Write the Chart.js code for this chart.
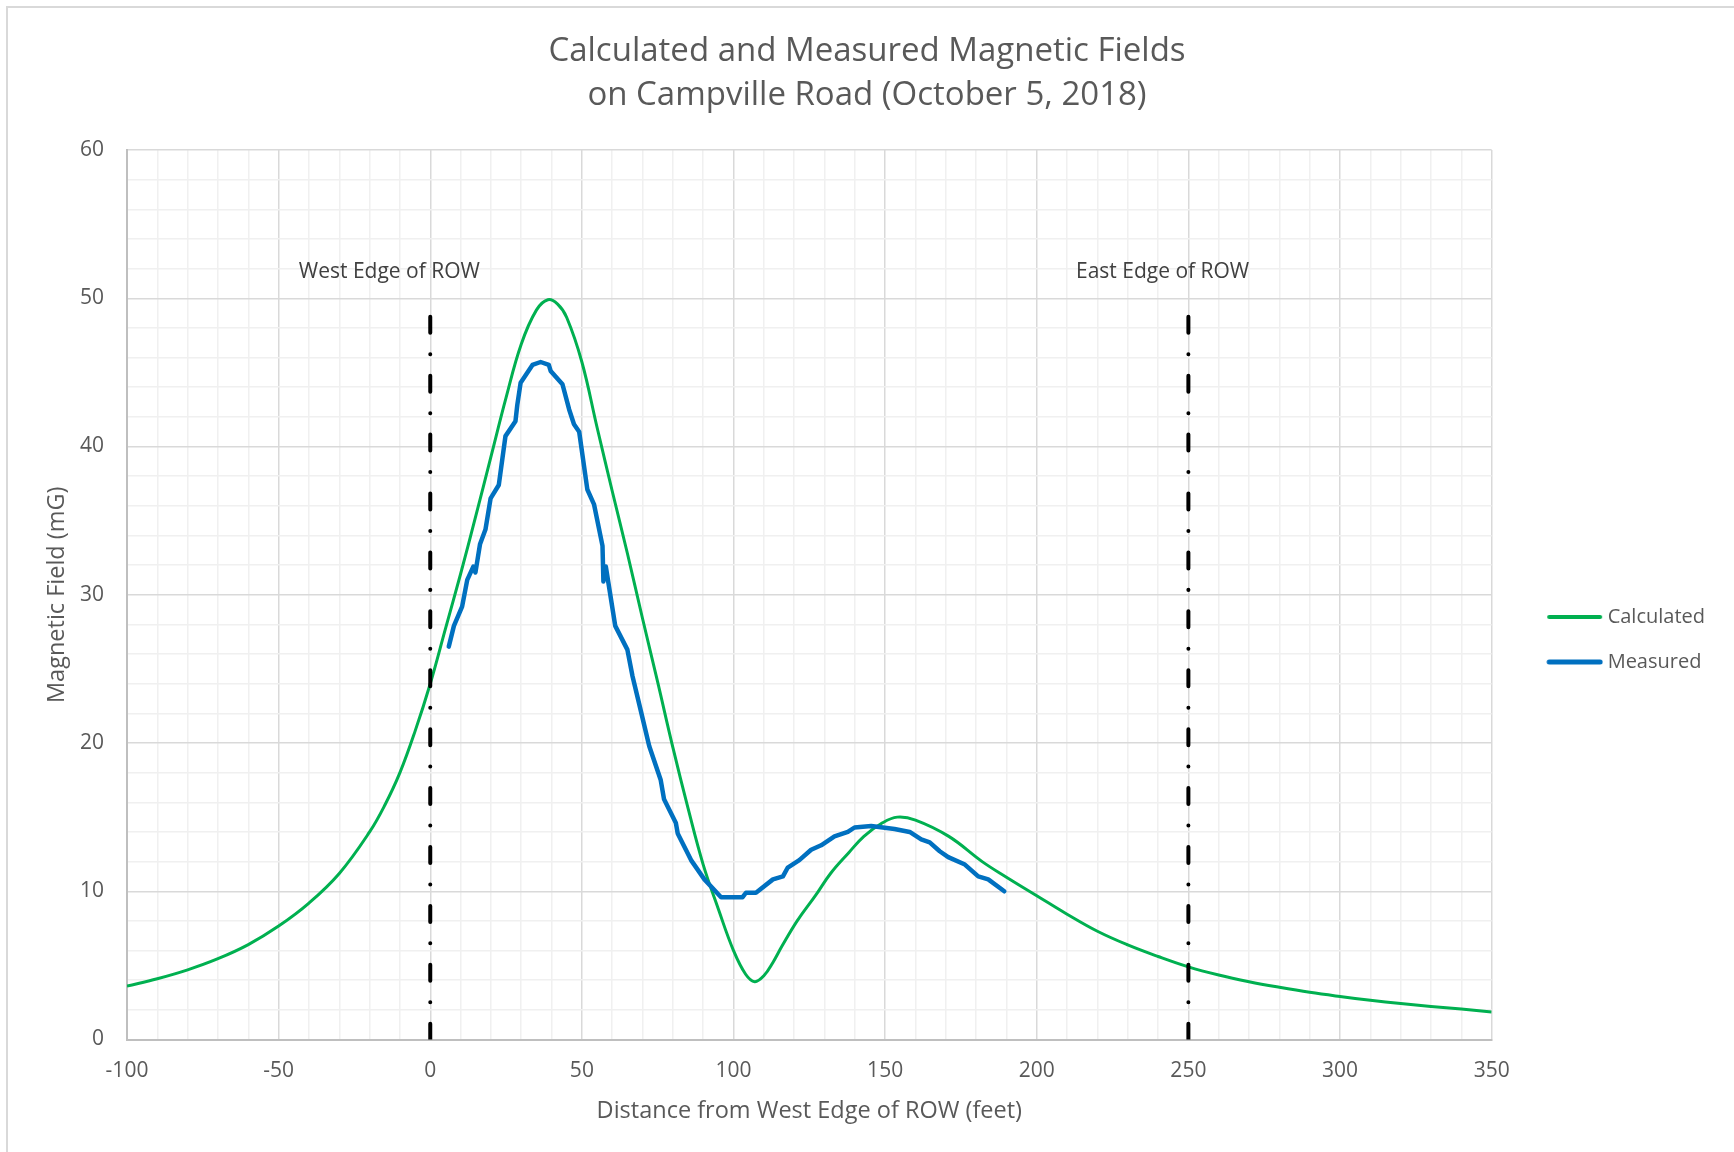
<!DOCTYPE html>
<html>
<head>
<meta charset="utf-8">
<title>Calculated and Measured Magnetic Fields</title>
<script src="https://cdn.jsdelivr.net/npm/chart.js@4.4.1/dist/chart.umd.min.js"></script>
<style>
    html, body { margin: 0; padding: 0; background: #fff; overflow: hidden; }
    #frame { position: absolute; left: 6px; top: 6px; width: 1800px; height: 1200px;
             border-left: 2px solid #d9d9d9; border-top: 2px solid #d9d9d9; }
    #field-chart { position: absolute; left: 0; top: 0; }
</style>
</head>
<body>
<div id="frame"></div>
<canvas id="field-chart" width="1734" height="1152"></canvas>
<script>
// Calculated profile (distance in feet, field in mG)
const calcDistance = [-100, -90, -80, -70, -60, -50, -40, -30, -20, -15,
    -10, -5, 0, 5, 10, 15, 20, 25, 30, 35,
    38.8, 42, 45, 50, 55, 60, 65, 70, 75, 80,
    85, 90, 95, 100, 104, 107, 110, 113, 116, 121,
    127, 132, 138, 143, 149, 154, 160, 171, 182, 190,
    200, 210, 220, 230, 240, 250, 260, 270, 280, 290,
    300, 310, 320, 330, 340, 350];
const calcField = [3.6, 4.1, 4.7, 5.45, 6.4, 7.65, 9.2, 11.2, 14.0, 15.8,
    18.0, 20.8, 24.0, 27.7, 31.4, 35.3, 39.3, 43.3, 46.9, 49.2,
    49.9, 49.6, 48.7, 45.7, 41.3, 37.0, 32.8, 28.4, 24.1, 19.7,
    15.6, 11.8, 8.8, 6.0, 4.4, 3.9, 4.3, 5.2, 6.3, 8.0,
    9.7, 11.2, 12.6, 13.7, 14.6, 15.0, 14.8, 13.7, 12.0, 10.95,
    9.7, 8.45, 7.3, 6.38, 5.6, 4.9, 4.35, 3.9, 3.52, 3.18,
    2.9, 2.65, 2.43, 2.23, 2.05, 1.85];

// Measured profile along the road
const measDistance = [6.1, 7.8, 10.5, 12.2, 14.2, 14.9, 16.4, 18.2, 19.9, 22.6,
    24.8, 28.1, 28.7, 29.8, 33.7, 36.4, 39.1, 39.7, 43.6, 45.8,
    47.4, 49.1, 51.8, 54.0, 56.8, 57.1, 57.9, 61.0, 65.0, 66.7,
    69.4, 72.2, 76.0, 77.1, 81.0, 81.6, 86.0, 90.4, 95.9, 103.0,
    104.1, 107.4, 113.0, 116.3, 117.9, 121.7, 125.6, 128.9, 133.3, 137.7,
    139.9, 145.4, 153.1, 158.1, 161.9, 164.7, 168.0, 170.8, 176.3, 180.7,
    184.0, 189.3];
const measField = [26.5, 27.9, 29.2, 31.0, 31.9, 31.5, 33.4, 34.4, 36.5, 37.4,
    40.7, 41.7, 42.8, 44.3, 45.5, 45.7, 45.5, 45.1, 44.2, 42.5,
    41.5, 41.0, 37.1, 36.1, 33.3, 30.9, 31.9, 27.9, 26.3, 24.5,
    22.2, 19.8, 17.5, 16.2, 14.6, 13.9, 12.1, 10.8, 9.6, 9.6,
    9.9, 9.9, 10.8, 11.0, 11.6, 12.1, 12.8, 13.1, 13.7, 14.0,
    14.3, 14.4, 14.2, 14.0, 13.5, 13.3, 12.7, 12.3, 11.8, 11.0,
    10.8, 10.0];

// ROW edges (feet) and their labels
const rowEdges = [0, 250];
const rowEdgeTop = 48.75;
const edgeLabels = ['West Edge of ROW', 'East Edge of ROW'];
const edgeLabelX = [-13.5, 241.5];
const edgeLabelY = 51.75;

// Labelled ticks
const xTicks = [-100, -50, 0, 50, 100, 150, 200, 250, 300, 350];
const yTicks = [0, 10, 20, 30, 40, 50, 60];

Chart.defaults.font.family = '"Open Sans", sans-serif';
Chart.defaults.color = '#595959';

// Legend swatch: a short line on the right part of a small canvas
function legendSwatch(color, width) {
    const c = document.createElement('canvas');
    c.width = 92;
    c.height = 10;
    const g = c.getContext('2d');
    g.strokeStyle = color;
    g.lineWidth = width;
    g.lineCap = 'round';
    g.beginPath();
    g.moveTo(38, 5);
    g.lineTo(89, 5);
    g.stroke();
    return c;
}

function toPoints(xs, ys) {
    return xs.map((x, i) => ({ x: x, y: ys[i] }));
}

const datasets = [
    {
        label: 'Calculated',
        data: toPoints(calcDistance, calcField),
        borderColor: '#00b050',
        backgroundColor: '#00b050',
        borderWidth: 3,
        pointRadius: 0,
        pointStyle: legendSwatch('#00b050', 4),
        tension: 0.4,
        order: 3
    },
    {
        label: 'Measured',
        data: toPoints(measDistance, measField),
        borderColor: '#0070c0',
        backgroundColor: '#0070c0',
        borderWidth: 4.5,
        borderJoinStyle: 'round',
        borderCapStyle: 'round',
        pointRadius: 0,
        pointStyle: legendSwatch('#0070c0', 5),
        tension: 0,
        order: 2
    }
];

// Dash-dot lines at the ROW edges, drawn from the top down
rowEdges.forEach(function (edge) {
    datasets.push({
        label: 'ROW ' + edge,
        data: [{ x: edge, y: rowEdgeTop }, { x: edge, y: 0 }],
        borderColor: '#000',
        borderWidth: 4,
        borderDash: [16, 21.45, 0.01, 21.45],
        borderCapStyle: 'round',
        pointRadius: 0,
        order: 1
    });
});

const edgeLabelPlugin = {
    id: 'edgeLabels',
    afterDatasetsDraw(chart) {
        const { ctx, scales } = chart;
        ctx.save();
        ctx.font = '21px "Open Sans", sans-serif';
        ctx.fillStyle = '#404040';
        ctx.textAlign = 'center';
        ctx.textBaseline = 'middle';
        edgeLabels.forEach(function (text, i) {
            ctx.fillText(text, scales.x.getPixelForValue(edgeLabelX[i]), scales.y.getPixelForValue(edgeLabelY));
        });
        ctx.restore();
    }
};

const ctx = document.getElementById('field-chart').getContext('2d');
new Chart(ctx, {
    type: 'line',
    data: { datasets: datasets },
    options: {
        responsive: false,
        animation: false,
        events: [],
        layout: { padding: { left: 19, right: 19, top: 0, bottom: 0 } },
        plugins: {
            title: {
                display: true,
                text: ['Calculated and Measured Magnetic Fields', 'on Campville Road (October 5, 2018)'],
                color: '#595959',
                font: { size: 33, weight: 'normal', lineHeight: 44 / 33 },
                padding: { top: 30, bottom: 32 }
            },
            legend: {
                position: 'right',
                title: { display: true, text: '', font: { size: 10, lineHeight: 1.2 }, padding: { top: 0, bottom: 115 } },
                labels: {
                    usePointStyle: true,
                    pointStyleWidth: 81,
                    padding: 25,
                    font: { size: 20 },
                    color: '#595959',
                    filter: item => item.datasetIndex < 2,
                    sort: (a, b) => a.datasetIndex - b.datasetIndex
                }
            },
            tooltip: { enabled: false }
        },
        scales: {
            x: {
                type: 'linear',
                min: -100,
                max: 350,
                afterFit: scale => { scale.height = 112.5; },
                grid: {
                    drawTicks: false,
                    lineWidth: 1.5,
                    color: c => xTicks.includes(c.tick.value) ? '#d9d9d9' : '#f0f0f0'
                },
                border: { color: '#bfbfbf', width: 2 },
                ticks: {
                    stepSize: 10,
                    autoSkip: false,
                    maxRotation: 0,
                    padding: 19,
                    font: { size: 21 },
                    callback: v => xTicks.includes(v) ? v : ''
                },
                title: {
                    display: true,
                    text: 'Distance from West Edge of ROW (feet)',
                    font: { size: 23.5 },
                    padding: { top: 0, bottom: 27 }
                }
            },
            y: {
                min: 0,
                max: 60,
                afterFit: scale => { scale.width = 108; },
                grid: {
                    drawTicks: false,
                    lineWidth: 1.5,
                    color: c => yTicks.includes(c.tick.value) ? '#d9d9d9' : '#f0f0f0'
                },
                border: { color: '#bfbfbf', width: 2 },
                ticks: {
                    stepSize: 2,
                    autoSkip: false,
                    padding: 23,
                    font: { size: 21 },
                    callback: v => yTicks.includes(v) ? v : ''
                },
                title: {
                    display: true,
                    text: 'Magnetic Field (mG)',
                    font: { size: 23.5 },
                    padding: { top: 24, bottom: 0 }
                }
            }
        }
    },
    plugins: [edgeLabelPlugin]
});
</script>
</body>
</html>
